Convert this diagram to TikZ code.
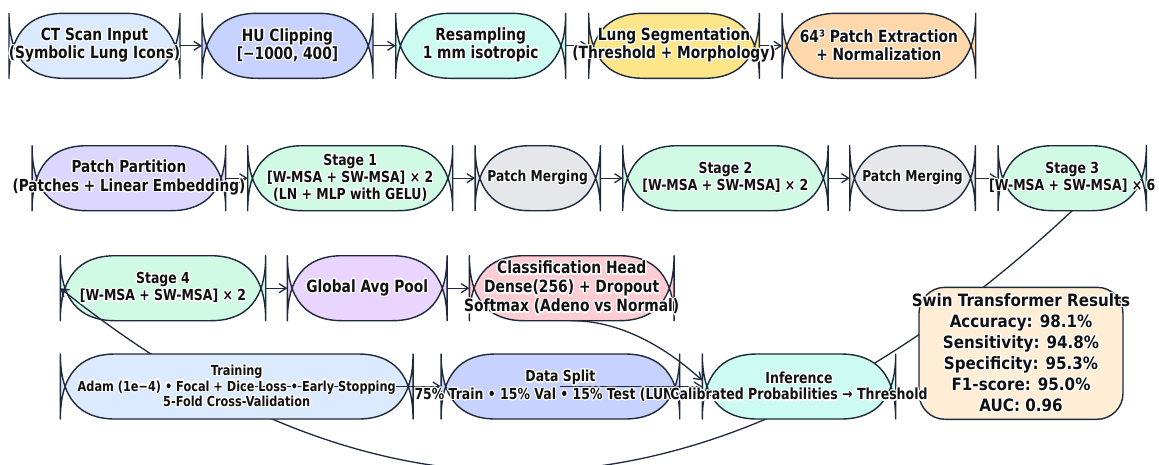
\documentclass[tikz,border=0pt]{standalone}
\usepackage{fontspec}
\setmainfont{DejaVu Sans}
\newfontfamily\narrowfont{DejaVu Sans}[FakeStretch=0.82]
\newfontfamily\resfont{DejaVu Sans}[FakeStretch=0.89]
\usepackage[copies]{contour}
\usetikzlibrary{arrows.meta,calc}
\contourlength{1.2pt}
\newcommand{\hl}[1]{\contour{white}{#1}}
\newcommand{\fs}[2]{\narrowfont\fontsize{#1}{#2}\selectfont\bfseries}
\newcommand{\fsr}[2]{\resfont\fontsize{#1}{#2}\selectfont\bfseries}

\definecolor{edge}{HTML}{1E293B}
\definecolor{ink}{HTML}{111111}
\definecolor{cBlue}{HTML}{DBEAFE}
\definecolor{cIndigo}{HTML}{C7D2FE}
\definecolor{cTeal}{HTML}{CCFBF1}
\definecolor{cYellow}{HTML}{FDE68A}
\definecolor{cOrange}{HTML}{FED7AA}
\definecolor{cViolet}{HTML}{DDD6FE}
\definecolor{cGreen}{HTML}{D1FAE5}
\definecolor{cGray}{HTML}{E5E7EB}
\definecolor{cPurple}{HTML}{E9D5FF}
\definecolor{cRose}{HTML}{FECDD3}
\definecolor{cPeach}{HTML}{FFEDD5}

% box outline: flat top/bottom, quadratic ends that cross into an X against an end bar
\newcommand{\blob}[3]{%
  \path[blobline, fill=#2] let \p1=(#1.south west), \p2=(#1.north east), \n1={\y2-\y1} in
    ({\x1+#3},\y1) -- ({\x2-#3},\y1)
    .. controls ({\x2-#3/3},\y1) and (\x2,{\y1+\n1/3}) .. (\x2,\y2)
    -- (\x2,\y1)
    .. controls (\x2,{\y1+2*\n1/3}) and ({\x2-#3/3},\y2) .. ({\x2-#3},\y2)
    -- ({\x1+#3},\y2)
    .. controls ({\x1+#3/3},\y2) and (\x1,{\y1+2*\n1/3}) .. (\x1,\y1)
    -- (\x1,\y2)
    .. controls (\x1,{\y1+\n1/3}) and ({\x1+#3/3},\y1) .. ({\x1+#3},\y1)
    -- cycle;}

\begin{document}
\begin{tikzpicture}[x=1pt,y=-1pt,
  box/.style 2 args={minimum width=#1pt, minimum height=#2pt, inner sep=0pt, outer sep=0pt, draw=none},
  blobline/.style={draw=edge, line width=1.4pt, line join=round},
  arr/.style={draw=edge, line width=1.3pt, -{Straight Barb[length=7pt,width=9pt]}},
  txt/.style={text=ink, align=center, inner sep=0pt}]
\useasboundingbox (0,0) rectangle (1159,464);
\clip (0,0) rectangle (1159,464);

% ---- node frames ----
\node[box={171}{65}]   (ct)  at (94.5,45.8) {};
\node[box={171}{65}]   (hu)  at (287.5,45.8) {};
\node[box={170}{65}]   (rsm) at (480.7,45.8) {};
\node[box={170.6}{65}] (seg) at (674,45.8) {};
\node[box={193.7}{65}] (pex) at (878.9,45.8) {};

\node[box={193.7}{65}] (pp)  at (128.9,178.2) {};
\node[box={205}{65}]   (s1)  at (350.2,178.2) {};
\node[box={125.3}{65}] (pm1) at (537.7,178.2) {};
\node[box={205.3}{65}] (s2)  at (725.4,178.2) {};
\node[box={125.6}{65}] (pm2) at (912.5,178.2) {};
\node[box={148.3}{65}] (s3)  at (1072.2,178.2) {};

\node[box={205.4}{65}] (s4)  at (163,288.2) {};
\node[box={159.7}{65}] (gap) at (367.2,288.2) {};
\node[box={204.7}{65}] (cls) at (571.7,288.2) {};

\node[box={352.7}{65}] (train) at (236.7,386.5) {};
\node[box={238.7}{65}] (split) at (560.4,386.5) {};
\node[box={193.4}{65}] (inf)   at (799,386.5) {};
\node[box={204}{132}]  (res)   at (1021,353.3) {};

% ---- shapes, rows 1-3 ----
\blob{ct}{cBlue}{55pt}
\blob{hu}{cIndigo}{55pt}
\blob{rsm}{cTeal}{55pt}
\blob{seg}{cYellow}{55pt}
\blob{pex}{cOrange}{55pt}
\blob{pp}{cViolet}{55pt}
\blob{s1}{cGreen}{55pt}
\blob{pm1}{cGray}{55pt}
\blob{s2}{cGreen}{55pt}
\blob{pm2}{cGray}{55pt}
\blob{s3}{cGreen}{55pt}
\blob{s4}{cGreen}{55pt}
\blob{gap}{cPurple}{55pt}
\blob{cls}{cRose}{55pt}

% Stage 3 to Stage 4, swept under the lower row
\draw[arr] (s3.south) .. controls +(-341.5,319.5) and +(333.1,267.9) .. (s4.west);

% ---- shapes, row 4 and results ----
\blob{train}{cBlue}{55pt}
\blob{split}{cIndigo}{55pt}
\blob{inf}{cTeal}{55pt}
\draw[blobline, fill=cPeach, rounded corners=26pt] (res.south west) rectangle (res.north east);

% ---- connectors ----
\draw[arr] (ct.east) -- (hu.west);
\draw[arr] (hu.east) -- (rsm.west);
\draw[arr] (rsm.east) -- (seg.west);
\draw[arr] (seg.east) -- (pex.west);
\draw[arr] (pp.east) -- (s1.west);
\draw[arr] (s1.east) -- (pm1.west);
\draw[arr] (pm1.east) -- (s2.west);
\draw[arr] (s2.east) -- (pm2.west);
\draw[arr] (pm2.east) -- (s3.west);
\draw[arr] (s4.east) -- (gap.west);
\draw[arr] (gap.east) -- (cls.west);
\draw[arr] (train.center) -- (split.west);
\draw[arr] (split.center) -- (inf.west);
\draw[arr] (cls.south) .. controls +(43,0) and +(-43,-39) .. ([yshift=6pt]inf.west);

% ---- labels ----
\node[txt, font=\fs{16.8}{18}] (ct-t)  at (ct)  {\hl{CT Scan Input}\\\hl{(Symbolic Lung Icons)}};
\node[txt, font=\fs{16.8}{18}] (hu-t)  at (hu)  {\hl{HU Clipping}\\\hl{[−1000, 400]}};
\node[txt, font=\fs{16.8}{18}] (rsm-t) at (rsm) {\hl{Resampling}\\\hl{1 mm isotropic}};
\node[txt, font=\fs{16.8}{18}] (seg-t) at (seg) {\hl{Lung Segmentation}\\\hl{(Threshold + Morphology)}};
\node[txt, font=\fs{16.8}{18}] (pex-t) at (pex) {\hl{64³ Patch Extraction}\\\hl{+ Normalization}};

\node[txt, font=\fs{16.6}{19.3}] (pp-t)  at (pp)  {\hl{Patch Partition}\\\hl{(Patches + Linear Embedding)}};
\node[txt, font=\fs{15.2}{17}]   (s1-t)  at (s1)  {\hl{Stage 1}\\\hl{[W-MSA + SW-MSA] × 2}\\\hl{(LN + MLP with GELU)}};
\node[txt, font=\fs{15}{17}]     (pm1-t) at (pm1) {\hl{Patch Merging}};
\node[txt, font=\fs{15.2}{17}]   (s2-t)  at (s2)  {\hl{Stage 2}\\\hl{[W-MSA + SW-MSA] × 2}};
\node[txt, font=\fs{15}{17}]     (pm2-t) at (pm2) {\hl{Patch Merging}};
\node[txt, font=\fs{15.2}{17}]   (s3-t)  at (s3)  {\hl{Stage 3}\\\hl{[W-MSA + SW-MSA] × 6}};

\node[txt, font=\fs{15.2}{17.3}] (s4-t)  at (s4)  {\hl{Stage 4}\\\hl{[W-MSA + SW-MSA] × 2}};
\node[txt, font=\fs{16.8}{19}]   (gap-t) at (gap) {\hl{Global Avg Pool}};
\node[txt, font=\fs{16.9}{19}]   (cls-t) at (cls) {\hl{Classification Head}\\\hl{Dense(256) + Dropout}\\\hl{Softmax (Adeno vs Normal)}};

\node[txt, font=\fs{13.8}{15.7}] (train-t) at (train) {\hl{Training}\\\hl{Adam (1e−4) • Focal + Dice Loss • Early Stopping}\\\hl{5-Fold Cross-Validation}};
\node[txt, font=\fs{15.2}{17.7}] (split-t) at (split) {\hl{Data Split}\\\hl{75\% Train • 15\% Val • 15\% Test (LUN}\phantom{A16)}};
\node[txt, font=\fs{15.3}{16.7}] (inf-t)   at (inf)   {\hl{Inference}\\\hl{Calibrated Probabilities → Threshold}};
\node[txt, font=\fsr{17}{21}]    (res-t)   at (res)   {\hl{Swin Transformer Results}\\\hl{Accuracy: 98.1\%}\\\hl{Sensitivity: 94.8\%}\\\hl{Specificity: 95.3\%}\\\hl{F1-score: 95.0\%}\\\hl{AUC: 0.96}};
\end{tikzpicture}
\end{document}
